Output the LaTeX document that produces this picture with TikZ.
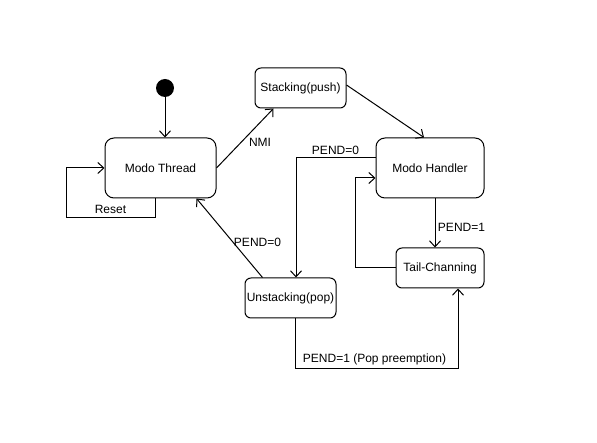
\documentclass[tikz,border=0pt]{standalone}
\usepackage{fontspec}
\setmainfont{Liberation Sans}
\usetikzlibrary{arrows.meta,calc}
\begin{document}
\begin{tikzpicture}[x=1pt,y=-1pt,
  font=\fontsize{12}{14}\selectfont, line width=1pt,
  bigstate/.style={draw, rounded corners=9pt, minimum height=60pt, inner sep=0pt},
  smallstate/.style={draw, rounded corners=6pt, minimum height=40pt, inner sep=0pt},
  initdot/.style={circle, fill=black, minimum size=18pt, inner sep=0pt},
  arr/.style={-{Straight Barb[length=6pt,width=11pt]}},
  lbl/.style={inner sep=0pt}]
\useasboundingbox (0,0) rectangle (597,443);
\node[initdot] (init) at (165,88) {};
\node[bigstate, minimum width=111pt] (thread) at (160.5,168) {Modo Thread};
\node[smallstate, minimum width=91pt] (stack) at (300.5,88) {Stacking(push)};
\node[bigstate, minimum width=108pt] (handler) at (430,168) {Modo Handler};
\node[smallstate, minimum width=88pt] (tail) at (440,268) {Tail-Channing};
\node[smallstate, minimum width=91pt] (unstack) at (290.5,298) {Unstacking(pop)};

\draw[arr] (init.south) -- (init.south |- thread.north);
\draw[arr] (thread.east) -- ($(stack.south west)+(19,0)$);
\node[lbl] (lnmi) at (260,142) {NMI};
\draw[arr] ($(stack.east)+(0,-3)$) -- ($(handler.north)+(-6,0)$);
\coordinate (rc) at (66,218);
\draw[arr] ($(thread.south)+(-5.5,0)$) |- (rc) |- (thread.west);
\node[lbl] (lreset) at (110.5,209) {Reset};
\draw[arr] ($(handler.west)+(0,-10)$) -| ($(unstack.north)+(5.5,0)$);
\node[lbl] (lp0a) at (335.5,150) {PEND=0};
\draw[arr] (tail.west) -| ($(handler.west)+(-20,10)$) -- ($(handler.west)+(0,10)$);
\draw[arr] ($(handler.south)+(5,0)$) -- ($(tail.north)+(-5,0)$);
\node[lbl] (lp1) at (461.5,227) {PEND=1};
\draw[arr] ($(unstack.north west)+(18,0)$) -- ($(thread.south east)+(-20,0)$);
\node[lbl] (lp0b) at (257.5,242) {PEND=0};
\draw[arr] ($(unstack.south)+(4.5,0)$) -- ++(0,50) -| ($(tail.south)+(18,0)$);
\node[lbl] (lpop) at (374.5,359) {PEND=1 (Pop preemption)};
\end{tikzpicture}
\end{document}
